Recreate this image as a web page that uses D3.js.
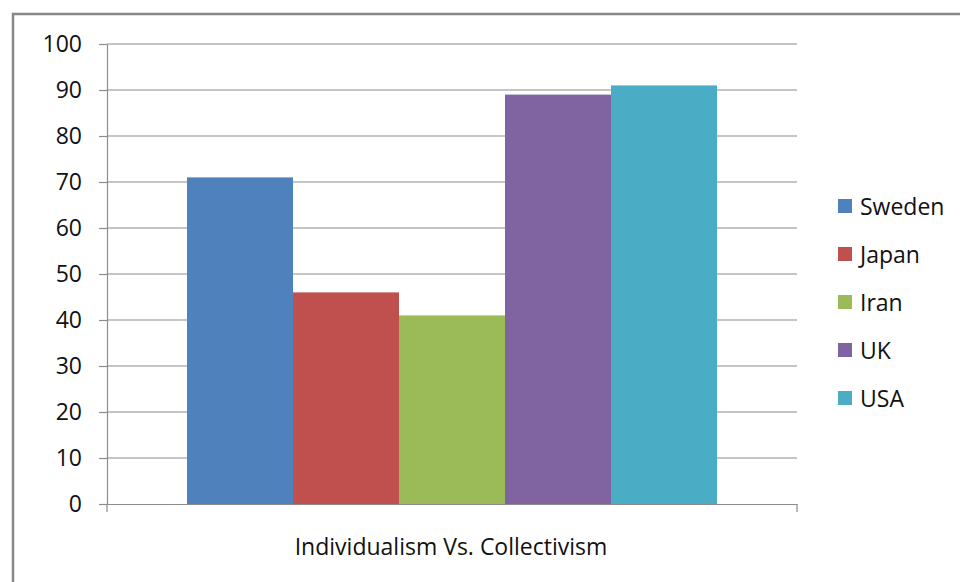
<!DOCTYPE html>
<html>
<head>
<meta charset="utf-8">
<script src="https://cdn.jsdelivr.net/npm/d3@7"></script>
<style>
  html, body { margin: 0; padding: 0; background: #fff; }
  svg { display: block; }
  text { font-family: "Open Sans", Lato, "Liberation Sans", sans-serif; fill: #111; }
</style>
</head>
<body>
<svg id="chart" width="960" height="582"></svg>
<script>
// Individualism scores by country
const category = "Individualism Vs. Collectivism";
const countries = ["Sweden", "Japan", "Iran", "UK", "USA"];
const scores = [71, 46, 41, 89, 91];
const colors = ["#4F81BD", "#C0504D", "#9BBB59", "#8064A2", "#4BACC6"];
const yTicks = [0, 10, 20, 30, 40, 50, 60, 70, 80, 90, 100];

const FONT = "'Open Sans', Lato, sans-serif";
const FS = 23;
const svg = d3.select("#chart");
const W = 960, H = 582;

// Chart frame
svg.append("rect")
  .attr("x", 13).attr("y", 14)
  .attr("width", W + 20).attr("height", H + 20)
  .attr("fill", "#fff")
  .attr("stroke", "#878787").attr("stroke-width", 2.5);

const plot = { left: 107, right: 797, top: 44, bottom: 504 };

const y = d3.scaleLinear().domain([0, 100]).range([plot.bottom, plot.top]);
const xCat = d3.scaleBand().domain([category]).range([plot.left, plot.right]).paddingInner(0).paddingOuter(0);
const inner = 530 / 690;
const xSer = d3.scaleBand().domain(countries)
  .range([xCat(category) + xCat.bandwidth() * (1 - inner) / 2,
          xCat(category) + xCat.bandwidth() * (1 + inner) / 2]);

// Gridlines
svg.append("g")
  .selectAll("line")
  .data(yTicks.filter(d => d > 0))
  .join("line")
  .attr("x1", plot.left).attr("x2", plot.right)
  .attr("y1", d => y(d)).attr("y2", d => y(d))
  .attr("stroke", "#8c8c8c").attr("stroke-width", 1.2);

// Bars
svg.append("g")
  .selectAll("rect")
  .data(countries.map((c, i) => ({ c, v: scores[i], col: colors[i] })))
  .join("rect")
  .attr("x", d => xSer(d.c))
  .attr("y", d => y(d.v))
  .attr("width", xSer.bandwidth())
  .attr("height", d => y(0) - y(d.v))
  .attr("fill", d => d.col);

// Y axis
const yAxis = svg.append("g")
  .attr("transform", `translate(${plot.left},0)`)
  .call(d3.axisLeft(y).tickValues(yTicks).tickSize(8).tickPadding(17).tickSizeOuter(0));
yAxis.select(".domain").attr("stroke", "#8c8c8c").attr("stroke-width", 1.2);
yAxis.selectAll(".tick line").attr("stroke", "#8c8c8c").attr("stroke-width", 1.2);
yAxis.selectAll(".tick text")
  .attr("font-size", FS)
  .attr("fill", "#111")
  .style("font-family", FONT);

// X axis (baseline with end ticks)
const xAxis = svg.append("g")
  .attr("transform", `translate(0,${plot.bottom})`)
  .call(d3.axisBottom(xCat).tickSize(0).tickFormat(() => ""));
xAxis.select(".domain").attr("stroke", "#8c8c8c").attr("stroke-width", 1.2);
svg.append("g")
  .selectAll("line")
  .data([plot.left, plot.right])
  .join("line")
  .attr("x1", d => d).attr("x2", d => d)
  .attr("y1", plot.bottom).attr("y2", plot.bottom + 8)
  .attr("stroke", "#8c8c8c").attr("stroke-width", 1.2);

// Category label
svg.append("text")
  .attr("x", xCat(category) + xCat.bandwidth() / 2 - 1)
  .attr("y", 555)
  .attr("text-anchor", "middle")
  .attr("font-size", FS)
  .style("font-family", FONT)
  .text(category);

// Legend
const legend = svg.append("g")
  .selectAll("g")
  .data(countries.map((c, i) => ({ c, col: colors[i] })))
  .join("g")
  .attr("transform", (d, i) => `translate(838,${199 + i * 48})`);
legend.append("rect")
  .attr("width", 14).attr("height", 14)
  .attr("fill", d => d.col);
legend.append("text")
  .attr("x", 22).attr("y", 16)
  .attr("font-size", FS)
  .style("font-family", FONT)
  .text(d => d.c);
</script>
</body>
</html>
